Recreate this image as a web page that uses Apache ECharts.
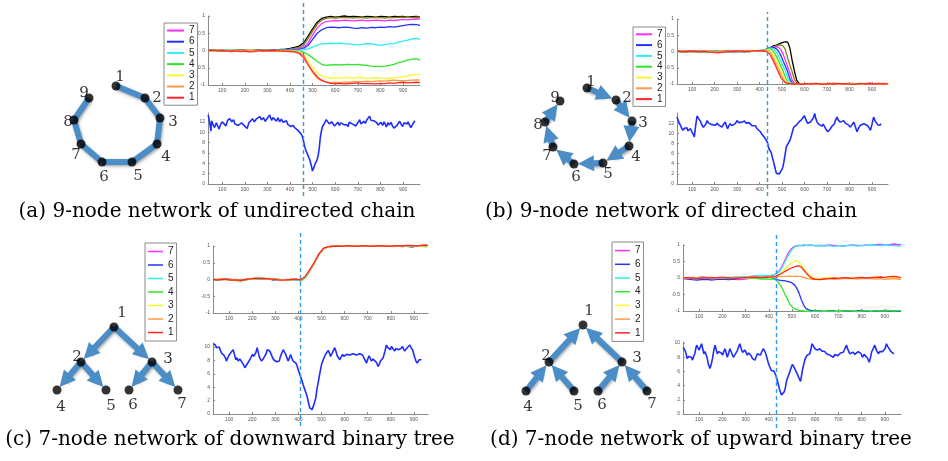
<!DOCTYPE html>
<html><head><meta charset="utf-8">
<script src="https://cdn.jsdelivr.net/npm/echarts@6/dist/echarts.min.js"></script>
<style>html,body{margin:0;padding:0;background:#fff}#c{width:948px;height:461px}</style>
</head><body><div id="c"></div>
<script>
// ================= DATA =================
const legendNames = ['7','6','5','4','3','2','1'];
const xTickValues = [100,200,300,400,500,600,700,800,900];
const yTopTicks = [-1,-0.5,0,0.5,1];
const yBotTicks12 = [0,2,4,6,8,10,12];
const yBotTicks10 = [0,2,4,6,8,10];
const captions = ['(a) 9-node network of undirected chain','(b) 9-node network of directed chain','(c) 7-node network of downward binary tree','(d) 7-node network of upward binary tree'];
const eventX = {a:460, b:433, c:407, d:431};

// ---- panel (a) top ----
const xA = [40,60,80,100,120,140,160,180,200,220,240,260,280,300,320,340,360,380,400,420,440,460,480,500,520,540,560,580,600,620,640,660,680,700,720,740,760,780,800,820,840,860,880,900,920,940,960,975];
const topA_9 = [0.01,0.02,0.0,0.01,-0.01,0.0,0.02,0.01,0.0,0.01,0.02,0.01,0.0,0.02,0.01,0.02,0.03,0.04,0.06,0.09,0.13,0.22,0.42,0.63,0.82,0.93,0.97,0.99,0.97,0.98,1.0,0.98,0.99,0.98,0.97,0.99,0.98,0.97,0.99,0.98,0.97,0.99,0.98,0.99,0.97,0.98,0.99,0.97];
const topA_8 = [0.0,0.01,0.02,0.0,0.01,0.0,-0.01,0.01,0.02,0.0,0.01,0.02,0.01,0.0,0.01,0.02,0.02,0.03,0.04,0.06,0.09,0.16,0.34,0.56,0.76,0.88,0.93,0.95,0.94,0.95,0.96,0.95,0.94,0.96,0.95,0.94,0.95,0.96,0.95,0.94,0.96,0.95,0.96,0.97,0.96,0.95,0.97,0.96];
const topA_7 = [0.02,0.0,0.01,0.02,0.0,-0.01,0.01,0.0,0.01,0.02,0.0,0.01,-0.01,0.0,0.01,0.0,0.01,0.02,0.03,0.04,0.06,0.1,0.22,0.45,0.65,0.78,0.84,0.86,0.87,0.86,0.88,0.87,0.86,0.87,0.88,0.86,0.87,0.88,0.87,0.86,0.88,0.87,0.89,0.9,0.89,0.9,0.92,0.9];
const topA_6 = [0.0,-0.01,0.01,0.0,-0.02,-0.03,-0.01,0.0,0.01,0.0,-0.01,0.01,0.0,0.01,0.0,0.01,0.0,0.01,0.02,0.02,0.03,0.06,0.15,0.32,0.5,0.6,0.66,0.68,0.67,0.66,0.68,0.67,0.65,0.64,0.66,0.65,0.67,0.66,0.68,0.67,0.69,0.68,0.7,0.72,0.74,0.76,0.75,0.73];
const topA_5 = [0.01,0.0,-0.01,0.01,0.02,0.0,0.01,-0.01,0.0,0.01,0.0,-0.01,0.0,0.01,0.0,-0.01,0.0,0.0,0.01,0.0,0.01,0.02,0.05,0.1,0.15,0.19,0.2,0.21,0.2,0.21,0.2,0.19,0.18,0.16,0.18,0.2,0.19,0.17,0.15,0.17,0.19,0.2,0.24,0.27,0.3,0.34,0.35,0.32];
const topA_4 = [0.0,0.01,0.0,-0.01,0.0,0.01,0.0,0.01,-0.01,0.0,0.01,0.0,0.01,0.0,-0.01,0.0,0.01,0.0,-0.01,-0.01,-0.02,-0.05,-0.12,-0.22,-0.32,-0.4,-0.43,-0.42,-0.41,-0.42,-0.41,-0.4,-0.41,-0.4,-0.42,-0.43,-0.45,-0.46,-0.47,-0.45,-0.43,-0.4,-0.35,-0.32,-0.28,-0.25,-0.24,-0.27];
const topA_3 = [-0.01,0.0,0.01,0.0,-0.01,0.0,0.0,-0.01,0.0,0.01,0.0,-0.01,0.0,0.0,-0.01,0.0,-0.01,-0.01,-0.02,-0.02,-0.03,-0.09,-0.3,-0.5,-0.65,-0.74,-0.78,-0.8,-0.79,-0.8,-0.78,-0.79,-0.8,-0.78,-0.79,-0.81,-0.8,-0.79,-0.8,-0.81,-0.8,-0.79,-0.78,-0.76,-0.74,-0.71,-0.7,-0.68];
const topA_2 = [0.0,-0.01,0.0,0.01,-0.01,-0.02,0.0,-0.01,0.0,0.0,-0.01,0.0,0.01,-0.01,0.0,-0.01,-0.01,-0.02,-0.02,-0.03,-0.05,-0.13,-0.4,-0.64,-0.8,-0.88,-0.92,-0.93,-0.92,-0.93,-0.91,-0.92,-0.9,-0.91,-0.9,-0.89,-0.9,-0.89,-0.88,-0.89,-0.87,-0.86,-0.87,-0.88,-0.87,-0.86,-0.85,-0.86];
const topA_1 = [0.0,0.01,-0.01,0.0,-0.02,-0.01,-0.02,-0.03,-0.02,-0.04,-0.03,-0.01,0.0,-0.01,0.0,-0.01,-0.02,-0.02,-0.03,-0.04,-0.08,-0.2,-0.42,-0.6,-0.76,-0.86,-0.92,-0.95,-0.96,-0.95,-0.97,-0.96,-0.95,-0.94,-0.96,-0.95,-0.96,-0.97,-0.95,-0.96,-0.94,-0.95,-0.93,-0.92,-0.94,-0.93,-0.92,-0.93];

// ---- panel (b) top ----
const xB = [35,55,75,95,115,135,155,175,195,215,235,255,275,295,315,335,355,375,395,415,425,435,445,455,465,475,485,495,505,515,525,535,545,555,565,575,585,595,610,630,650,670,690,710,730,750,770,790,810,830,850,870,890,910,930,950,970];
const topB_1 = [0.01,-0.01,0.0,0.02,0.0,-0.01,0.01,-0.02,-0.03,-0.04,-0.02,-0.01,0.0,0.02,0.01,0.0,0.01,0.02,0.03,0.02,0.01,-0.02,-0.08,-0.2,-0.35,-0.5,-0.65,-0.8,-0.9,-0.96,-0.98,-0.99,-1.0,-1.0,-0.99,-1.0,-1.01,-1.0,-0.99,-1.0,-0.98,-1.0,-1.01,-0.99,-1.0,-0.98,-1.0,-0.99,-1.01,-1.0,-0.98,-1.0,-0.99,-1.0,-0.98,-1.0,-0.99];
const topB_2 = [0.0,0.01,-0.01,0.0,0.01,-0.02,0.0,0.01,-0.01,0.0,0.01,-0.01,0.02,0.0,0.01,0.02,0.0,0.02,0.03,0.03,0.04,0.04,0.0,-0.1,-0.25,-0.4,-0.53,-0.7,-0.85,-0.94,-0.98,-1.0,-0.99,-1.0,-1.0,-0.99,-1.0,-1.01,-1.0,-0.99,-1.0,-1.01,-0.99,-1.0,-0.98,-1.0,-0.99,-1.0,-1.01,-0.99,-1.0,-0.98,-1.0,-0.99,-1.0,-1.01,-0.99];
const topB_3 = [-0.01,0.0,0.01,0.0,-0.01,0.0,0.01,0.0,0.0,-0.01,0.01,0.0,-0.01,0.01,0.0,0.01,0.02,0.01,0.02,0.03,0.04,0.06,0.05,-0.02,-0.12,-0.28,-0.42,-0.56,-0.75,-0.9,-0.97,-1.0,-1.0,-0.99,-1.0,-1.0,-0.99,-1.0,-1.0,-1.0,-0.99,-1.0,-0.98,-1.0,-0.99,-1.01,-1.0,-0.99,-1.0,-0.98,-1.0,-1.0,-0.99,-1.01,-1.0,-0.99,-1.0];
const topB_4 = [0.0,0.0,-0.01,0.01,0.0,0.01,-0.01,0.0,0.01,0.0,-0.01,0.0,0.01,0.0,0.02,0.0,0.01,0.02,0.03,0.04,0.05,0.08,0.08,0.05,-0.03,-0.15,-0.3,-0.45,-0.6,-0.8,-0.94,-0.99,-1.0,-1.0,-0.99,-1.0,-1.0,-1.01,-0.99,-1.0,-1.0,-0.98,-1.0,-0.99,-1.0,-1.01,-0.99,-1.0,-0.98,-1.0,-0.99,-1.0,-1.0,-0.98,-1.0,-0.99,-1.0];
const topB_5 = [-0.02,-0.01,0.0,0.01,0.0,-0.01,0.0,0.01,0.0,0.01,0.0,-0.01,0.0,0.01,0.0,0.01,0.0,0.01,0.02,0.03,0.05,0.09,0.1,0.1,0.06,-0.02,-0.15,-0.3,-0.45,-0.58,-0.8,-0.95,-0.99,-1.0,-1.0,-0.99,-1.0,-1.0,-1.0,-0.99,-1.0,-1.0,-0.98,-1.0,-0.99,-1.0,-1.0,-0.99,-1.0,-1.0,-0.98,-1.0,-0.99,-1.0,-1.0,-0.99,-1.0];
const topB_6 = [0.0,0.01,0.0,-0.01,0.0,0.01,0.0,0.0,0.01,0.0,0.0,0.01,0.0,-0.01,0.0,0.01,0.0,0.02,0.02,0.04,0.06,0.1,0.12,0.13,0.12,0.08,0.0,-0.12,-0.3,-0.45,-0.62,-0.85,-0.97,-1.0,-1.0,-0.99,-1.0,-1.0,-0.99,-1.0,-1.0,-0.99,-1.0,-0.98,-1.0,-1.0,-0.99,-1.0,-1.0,-0.99,-1.0,-1.0,-0.98,-1.0,-0.99,-1.0,-1.0];
const topB_7 = [0.01,0.0,0.0,0.01,-0.01,0.0,0.01,0.0,-0.01,0.0,0.01,0.0,0.0,0.01,0.0,0.0,0.01,0.01,0.02,0.03,0.05,0.08,0.11,0.13,0.14,0.15,0.12,0.05,-0.08,-0.28,-0.46,-0.66,-0.88,-0.98,-1.0,-1.0,-0.99,-1.0,-1.0,-0.98,-1.0,-0.99,-1.0,-1.0,-0.97,-1.0,-0.99,-1.0,-0.98,-1.0,-1.0,-0.99,-0.97,-1.0,-0.99,-0.98,-0.99];
const topB_8 = [0.0,0.0,0.01,0.0,0.0,-0.01,0.0,0.01,0.0,0.0,0.0,0.01,0.0,0.0,0.01,0.0,0.01,0.01,0.02,0.03,0.04,0.07,0.1,0.13,0.15,0.17,0.19,0.2,0.17,0.05,-0.2,-0.42,-0.63,-0.86,-0.97,-1.0,-1.0,-0.99,-1.0,-1.0,-0.99,-1.0,-1.0,-0.99,-1.0,-1.0,-0.99,-1.0,-1.0,-0.99,-1.0,-1.0,-0.99,-1.0,-1.0,-0.99,-1.0];
const topB_9 = [0.0,0.0,0.0,0.01,0.0,0.0,0.0,0.0,0.01,0.0,0.0,0.0,0.0,0.01,0.0,0.0,0.0,0.01,0.01,0.02,0.03,0.06,0.1,0.15,0.18,0.2,0.23,0.26,0.28,0.3,0.29,0.1,-0.28,-0.6,-0.88,-0.97,-1.0,-1.0,-0.99,-1.0,-1.0,-1.0,-0.99,-1.0,-1.0,-1.0,-0.99,-1.0,-1.0,-1.0,-0.99,-1.0,-1.0,-1.0,-0.99,-1.0,-1.0];

// ---- panel (c) top ----
const xC = [30,50,70,90,110,130,150,170,190,210,230,250,270,290,310,330,350,370,390,410,430,450,470,490,510,530,550,570,590,610,630,650,670,690,710,730,750,770,790,810,830,850,870,890,910,930,950,960];
const topC_1 = [0.0,-0.01,0.01,0.0,-0.02,-0.01,-0.03,0.0,0.02,0.03,0.04,0.03,0.02,0.01,-0.01,-0.02,-0.01,0.0,0.01,-0.01,0.1,0.3,0.53,0.78,0.94,0.98,0.99,1.0,0.99,1.01,1.0,0.99,1.0,1.01,0.99,1.0,1.01,1.0,0.99,1.0,1.01,1.0,1.02,1.01,1.0,1.02,1.03,1.02];
const topC_2 = [0.01,0.0,-0.01,0.01,0.0,-0.02,-0.01,0.01,0.02,0.04,0.03,0.02,0.03,0.0,0.0,-0.02,-0.02,0.01,0.0,-0.02,0.09,0.29,0.52,0.77,0.93,0.98,1.0,0.99,1.0,1.0,0.99,1.01,1.0,0.99,1.0,1.01,0.99,1.0,1.01,0.99,1.0,1.0,1.01,1.02,1.0,1.01,1.02,1.01];
const topC_3 = [0.0,0.01,0.0,-0.01,0.01,0.0,-0.02,0.0,0.03,0.02,0.04,0.02,0.03,0.01,-0.01,-0.02,0.0,-0.01,0.01,-0.01,0.08,0.28,0.51,0.76,0.93,0.97,0.99,1.0,0.99,1.0,1.01,0.99,1.0,1.0,0.99,1.01,1.0,0.99,1.0,1.01,1.0,0.99,1.0,1.01,1.0,1.0,1.01,1.0];
const topC_4 = [-0.01,0.0,0.0,0.01,-0.02,-0.03,-0.05,-0.02,0.01,0.03,0.02,0.04,0.02,0.0,0.01,-0.01,-0.02,0.0,0.01,-0.03,0.07,0.27,0.5,0.76,0.92,0.97,0.99,1.0,1.01,0.99,1.0,1.01,1.0,0.99,1.01,1.0,1.0,0.99,1.01,1.0,0.99,1.01,1.0,0.99,1.0,0.99,0.98,0.99];
const topC_5 = [0.02,0.0,0.01,-0.01,0.0,-0.01,-0.02,0.0,0.01,0.02,0.03,0.03,0.01,0.02,0.0,-0.02,-0.01,-0.02,-0.01,-0.05,0.05,0.25,0.49,0.75,0.92,0.97,0.99,0.99,1.0,0.99,1.0,1.0,0.99,1.0,1.01,0.99,1.0,0.99,1.0,0.98,1.0,0.99,0.98,1.0,0.99,1.0,0.98,0.99];
const topC_6 = [0.0,-0.01,0.0,0.01,0.0,-0.01,0.0,-0.01,0.02,0.03,0.02,0.01,0.03,-0.02,0.0,-0.02,0.0,-0.01,0.0,-0.03,0.06,0.26,0.5,0.76,0.93,0.98,0.99,1.0,0.99,1.0,1.01,1.0,0.99,1.0,1.0,0.99,1.0,1.01,1.0,0.99,1.0,0.98,1.0,0.97,1.0,0.99,1.0,0.99];
const topC_7 = [0.01,0.0,0.0,0.01,-0.01,0.0,-0.01,0.0,0.02,0.03,0.03,0.02,0.02,0.01,0.0,-0.01,-0.01,0.0,0.0,-0.02,0.08,0.28,0.52,0.77,0.93,0.98,0.99,1.0,1.0,0.99,1.01,1.0,1.0,0.99,1.01,1.0,1.0,0.99,1.0,1.01,1.0,1.0,0.99,1.01,1.0,1.0,1.01,1.0];

// ---- panel (d) top ----
const xD = [30,50,70,90,110,130,150,170,190,210,230,250,270,290,310,330,350,370,390,410,420,430,440,450,460,470,480,490,500,510,520,530,540,550,560,570,580,590,600,620,640,660,680,700,720,740,760,780,800,820,840,860,880,900,920,940,960,970];
const topD_7 = [0.0,0.01,0.02,0.01,0.03,0.02,0.01,0.0,-0.01,-0.02,-0.03,-0.04,-0.05,-0.04,-0.02,0.0,0.03,0.05,0.07,0.08,0.09,0.13,0.18,0.27,0.4,0.55,0.7,0.82,0.9,0.95,0.98,0.99,0.98,1.0,0.99,0.98,1.0,0.99,0.98,0.99,0.98,1.0,0.99,0.98,0.97,0.99,1.0,0.99,0.98,1.0,0.99,1.01,1.02,1.0,1.01,1.03,1.01,1.0];
const topD_6 = [-0.02,-0.03,-0.05,-0.06,-0.05,-0.04,-0.06,-0.05,-0.03,-0.04,-0.05,-0.03,-0.01,0.02,0.04,0.05,0.06,0.04,0.03,0.02,0.0,-0.04,-0.06,-0.07,-0.08,-0.09,-0.1,-0.12,-0.15,-0.2,-0.3,-0.45,-0.65,-0.82,-0.92,-0.96,-0.98,-0.99,-1.0,-1.0,-1.01,-0.99,-1.0,-1.02,-1.0,-0.99,-1.01,-1.0,-0.98,-1.0,-1.01,-0.99,-1.0,-0.98,-1.0,-0.99,-1.01,-1.0];
const topD_5 = [0.0,0.01,0.0,0.01,0.02,0.01,0.02,0.01,0.02,0.03,0.02,0.03,0.04,0.03,0.04,0.05,0.06,0.07,0.08,0.09,0.1,0.12,0.16,0.23,0.35,0.5,0.64,0.76,0.86,0.93,0.97,0.98,0.99,0.97,0.99,1.0,0.98,0.99,0.97,0.98,0.97,0.98,0.96,0.98,0.97,0.98,0.99,0.97,0.98,0.99,1.0,0.99,0.98,1.0,0.99,0.98,0.97,0.98];
const topD_4 = [0.0,-0.01,0.0,0.01,0.02,0.01,0.02,0.0,-0.01,0.0,-0.02,-0.01,0.0,0.01,0.0,-0.01,-0.02,-0.03,-0.03,-0.04,-0.03,-0.06,-0.12,-0.22,-0.35,-0.5,-0.64,-0.78,-0.87,-0.93,-0.96,-0.98,-0.99,-1.0,-1.01,-1.0,-1.02,-1.01,-1.0,-1.02,-1.01,-1.0,-1.02,-1.0,-1.01,-0.99,-1.0,-1.02,-1.0,-0.99,-1.01,-0.98,-1.0,-0.99,-0.98,-1.0,-0.99,-1.0];
const topD_3 = [0.01,0.0,0.02,0.01,0.0,0.01,0.02,0.01,0.0,0.01,0.02,0.01,0.02,0.01,0.02,0.03,0.02,0.03,0.02,0.03,0.03,0.05,0.08,0.13,0.2,0.28,0.35,0.42,0.47,0.51,0.53,0.48,0.4,0.3,0.2,0.12,0.06,0.02,0.0,-0.02,0.0,0.01,0.0,-0.01,0.01,0.0,0.02,0.01,0.0,0.01,0.02,0.03,0.02,0.01,0.02,0.0,0.01,0.02];
const topD_2 = [0.0,-0.01,0.0,-0.02,-0.01,0.0,0.01,0.0,-0.01,0.01,0.0,0.01,0.02,0.01,0.0,0.01,0.02,0.01,0.02,0.02,0.03,0.03,0.04,0.04,0.05,0.05,0.05,0.06,0.05,0.05,0.06,0.05,0.04,0.02,0.0,-0.02,-0.03,-0.04,-0.03,-0.04,-0.03,-0.02,-0.04,-0.03,-0.02,-0.01,-0.02,-0.03,-0.02,-0.01,-0.02,-0.03,-0.02,-0.04,-0.03,-0.02,-0.04,-0.03];
const topD_1 = [0.0,0.01,0.0,-0.01,0.0,0.01,0.0,0.01,0.02,0.01,0.0,-0.01,0.0,0.01,0.02,0.03,0.02,0.01,0.02,0.03,0.04,0.06,0.09,0.12,0.16,0.2,0.24,0.28,0.31,0.34,0.36,0.37,0.33,0.25,0.16,0.08,0.02,-0.02,-0.04,-0.05,-0.03,-0.02,0.0,-0.01,0.01,0.0,-0.01,0.01,0.02,0.0,0.01,0.02,0.03,0.02,0.04,0.05,0.03,0.0];

// ---- bottom panels: [x, value] ----
const bottomA = [[38,13.3],[45,11.7],[50,10.2],[53,12.2],[60,11.4],[66,10.9],[74,11.8],[80,11.2],[86,10.6],[93,11.5],[100,12.0],[108,11.6],[116,11.2],[124,12.3],[134,12.6],[142,12.0],[150,12.4],[156,11.6],[163,11.7],[170,11.3],[178,11.0],[186,11.8],[194,11.4],[202,11.2],[210,10.7],[218,11.8],[226,12.2],[234,12.6],[242,12.0],[250,12.5],[258,12.2],[266,13.0],[274,12.4],[282,12.8],[290,12.1],[298,12.6],[304,12.9],[310,13.3],[318,12.3],[325,12.8],[332,12.5],[340,12.1],[347,12.8],[354,12.0],[362,12.5],[370,11.9],[377,12.2],[384,12.2],[390,11.5],[396,11.7],[402,11.1],[406,10.9],[414,11.3],[420,10.9],[428,10.7],[436,10.3],[443,10.0],[450,9.6],[455,9.1],[460,8.2],[465,7.2],[470,6.5],[476,5.9],[482,5.2],[487,4.7],[492,3.9],[496,3.2],[499,2.5],[503,2.9],[508,3.5],[512,4.0],[516,4.3],[520,4.7],[525,5.7],[529,6.8],[534,9.0],[539,10.3],[543,11.0],[548,11.2],[553,11.8],[560,12.4],[568,12.2],[574,11.6],[579,11.9],[584,12.0],[590,11.7],[597,11.2],[605,11.5],[612,11.9],[618,11.3],[625,11.8],[632,12.1],[640,11.4],[649,11.5],[657,11.1],[662,11.9],[667,12.1],[675,11.6],[683,11.8],[690,11.2],[697,11.5],[703,12.0],[708,12.4],[714,11.6],[720,11.9],[727,12.1],[733,11.7],[740,12.4],[746,12.6],[752,13.1],[758,12.3],[764,12.6],[770,12.2],[776,12.5],[782,11.9],[790,11.4],[797,11.5],[803,11.9],[810,11.3],[816,12.0],[822,11.5],[826,11.0],[833,11.8],[840,11.4],[847,11.9],[853,11.2],[860,10.8],[867,10.6],[873,11.3],[879,11.7],[885,12.1],[892,11.5],[898,11.1],[905,11.8],[912,11.9],[918,11.6],[922,12.0],[928,11.4],[934,10.9],[940,11.3],[946,11.6],[952,12.2]];
const bottomB = [[33,13.2],[38,12.9],[43,12.0],[48,11.6],[54,11.0],[60,10.6],[66,11.0],[72,10.7],[77,11.1],[81,10.5],[87,10.8],[93,10.9],[98,10.4],[104,9.9],[110,9.3],[116,11.5],[122,13.4],[128,13.0],[133,13.2],[138,12.3],[144,11.6],[150,11.2],[155,10.9],[161,11.8],[167,12.5],[174,12.0],[181,12.2],[188,11.7],[196,11.9],[204,11.6],[211,12.0],[219,11.6],[226,11.4],[233,11.2],[240,11.8],[248,12.2],[253,11.4],[258,10.9],[264,11.5],[270,11.9],[277,11.5],[285,11.2],[292,11.9],[300,12.5],[307,12.1],[315,11.8],[322,12.2],[328,12.0],[333,12.4],[340,12.0],[347,11.8],[353,12.1],[359,11.9],[366,11.5],[374,11.2],[381,11.5],[389,10.9],[396,10.6],[404,10.3],[410,9.8],[416,9.6],[423,9.1],[430,9.0],[435,8.2],[441,7.0],[448,6.7],[452,6.2],[456,5.4],[461,4.6],[466,3.7],[470,2.9],[475,2.1],[482,1.8],[488,2.0],[493,2.4],[499,2.8],[504,3.4],[508,4.3],[512,5.4],[516,6.5],[519,7.3],[525,7.8],[530,8.0],[535,8.6],[540,9.3],[546,10.3],[552,11.2],[558,11.4],[564,11.6],[569,11.9],[574,12.2],[580,12.4],[585,12.6],[589,12.9],[594,13.1],[599,13.5],[604,12.9],[608,12.5],[613,12.0],[619,11.9],[626,12.2],[633,12.2],[639,13.0],[645,13.9],[650,12.9],[656,12.2],[663,11.8],[670,11.6],[677,11.4],[683,11.8],[688,11.5],[695,10.8],[703,10.3],[709,10.6],[715,10.9],[722,11.4],[728,11.6],[733,11.9],[738,12.6],[744,13.2],[750,12.6],[759,12.2],[766,12.4],[774,12.5],[781,12.0],[789,11.9],[796,11.6],[804,11.2],[811,11.7],[819,12.2],[826,11.3],[833,10.3],[840,11.0],[848,11.6],[855,11.9],[863,11.9],[870,11.6],[878,11.6],[885,11.2],[893,10.6],[900,11.8],[907,13.2],[913,12.5],[919,12.2],[925,11.7],[930,12.0],[935,11.6],[940,11.9]];
const bottomC = [[31,10.5],[36,10.4],[40,10.3],[45,9.9],[51,10.1],[57,10.0],[62,9.5],[67,9.1],[72,9.2],[77,8.8],[81,8.6],[85,8.3],[88,7.9],[93,8.3],[98,8.7],[103,8.9],[108,9.2],[113,9.4],[117,9.6],[122,9.0],[129,8.1],[134,8.4],[139,7.9],[146,8.2],[153,8.1],[158,7.6],[163,7.3],[168,6.9],[173,7.2],[178,7.4],[184,7.8],[189,8.1],[195,8.5],[201,8.9],[206,8.6],[211,8.4],[216,9.2],[221,9.9],[226,9.2],[230,8.6],[235,8.2],[240,7.9],[247,8.2],[254,8.4],[260,9.0],[265,9.6],[270,9.5],[276,9.4],[282,8.9],[288,8.4],[293,8.1],[298,7.9],[305,7.8],[312,7.6],[317,7.9],[322,8.6],[328,9.1],[334,9.6],[340,9.2],[345,8.9],[350,8.4],[355,7.9],[360,8.3],[366,8.9],[371,8.4],[377,7.9],[383,7.9],[389,7.6],[394,7.2],[399,6.6],[404,6.1],[409,5.6],[415,5.0],[420,4.4],[425,3.9],[430,3.4],[435,2.9],[439,2.4],[444,1.6],[449,0.9],[454,0.7],[459,0.65],[463,0.9],[467,1.4],[471,1.9],[475,2.4],[478,3.1],[481,3.9],[486,4.8],[490,5.6],[495,6.5],[500,7.4],[505,7.9],[511,8.4],[516,8.8],[521,9.1],[525,9.3],[529,9.5],[534,9.1],[539,8.6],[545,9.0],[550,9.4],[557,9.9],[563,9.3],[568,8.7],[574,8.4],[579,8.1],[585,8.5],[591,8.9],[596,8.6],[601,8.7],[608,8.9],[615,9.1],[622,8.8],[630,8.7],[637,9.0],[644,9.1],[651,8.8],[658,8.9],[665,9.0],[673,9.1],[678,8.8],[683,8.4],[689,8.0],[695,7.6],[700,8.2],[706,8.7],[711,8.3],[716,7.9],[723,8.2],[731,8.4],[738,7.7],[745,7.1],[750,7.4],[755,7.9],[761,8.1],[767,8.4],[774,9.3],[781,10.3],[787,9.9],[793,9.9],[798,9.6],[803,10.1],[810,9.7],[817,9.4],[822,9.8],[827,9.9],[833,9.6],[839,9.4],[845,9.8],[850,10.1],[855,9.7],[860,9.4],[866,9.6],[871,9.9],[876,10.0],[882,10.3],[888,9.9],[894,9.6],[899,9.0],[904,8.4],[909,7.9],[914,7.6],[919,7.8],[923,8.1],[928,7.9],[933,8.1]];
const bottomD = [[31,9.4],[36,9.2],[41,8.8],[48,7.8],[54,8.1],[60,8.3],[66,8.0],[71,7.6],[76,8.1],[81,8.5],[85,9.2],[89,9.7],[95,9.3],[100,9.0],[105,9.5],[110,9.9],[115,9.2],[120,8.5],[125,8.8],[129,8.7],[134,7.9],[139,7.1],[143,6.7],[146,6.4],[151,6.9],[157,7.8],[162,8.8],[168,9.7],[173,9.1],[178,8.5],[184,8.8],[189,9.0],[195,8.6],[201,8.3],[206,8.8],[211,9.2],[216,8.6],[221,8.0],[227,8.6],[232,9.2],[240,8.6],[247,8.0],[253,8.3],[258,8.3],[264,8.9],[270,9.5],[275,9.9],[281,9.2],[287,8.7],[292,8.9],[297,9.0],[302,8.7],[307,8.3],[313,8.6],[318,8.7],[324,8.2],[330,7.8],[335,7.7],[340,7.6],[346,8.1],[351,8.5],[357,8.3],[364,8.3],[370,8.8],[376,9.2],[382,8.9],[387,8.5],[392,7.9],[397,7.3],[402,6.8],[407,6.4],[412,6.1],[416,6.0],[421,6.1],[426,6.0],[431,5.4],[436,4.8],[441,4.2],[445,3.6],[450,3.1],[455,2.7],[459,2.8],[462,2.9],[466,3.1],[469,3.4],[473,4.0],[476,4.6],[482,5.2],[488,5.7],[493,6.2],[498,6.7],[502,7.0],[505,7.1],[509,6.8],[512,6.4],[517,6.0],[522,5.7],[527,5.3],[531,5.0],[534,4.8],[537,4.6],[541,5.4],[545,6.2],[550,6.9],[555,7.6],[560,8.0],[566,8.3],[572,8.4],[577,8.5],[582,9.2],[586,9.9],[592,9.6],[599,9.2],[604,9.0],[609,9.0],[614,8.8],[620,9.2],[627,8.9],[634,8.7],[641,8.8],[649,8.5],[656,8.6],[663,8.3],[670,8.5],[678,8.0],[685,8.4],[692,8.5],[698,8.2],[703,8.3],[709,8.6],[715,8.8],[721,8.7],[728,9.2],[735,9.7],[742,9.0],[749,8.5],[756,8.6],[764,8.7],[771,8.4],[778,8.3],[785,8.8],[792,9.0],[798,8.5],[804,8.0],[811,8.4],[818,8.5],[825,7.9],[833,7.3],[838,7.9],[843,8.7],[850,9.2],[857,9.7],[864,9.0],[872,8.5],[879,8.8],[886,9.0],[891,8.8],[896,8.7],[901,9.2],[907,9.9],[913,9.5],[919,9.2],[924,8.9],[929,8.9],[934,8.6],[939,8.5]];

// ---- networks: node layout positions (units) and edges (1-based) ----
const nodesA = [[66,16],[95,28],[110,48],[107,74],[82,92],[52,92],[31,74],[24,50],[39,28]];
const edgesA = [[1,2],[2,3],[3,4],[4,5],[5,6],[6,7],[7,8],[8,9]];
const nodesB = [[67,18],[96,30],[112,51],[109,76],[83,93],[54,94],[33,77],[25,52],[40,31]];
const edgesB = [[1,2],[2,3],[3,4],[4,5],[5,6],[6,7],[7,8],[8,9]];
const nodesC = [[74,27],[41,62],[112,62],[17,90],[66,90],[89,90],[138,90]];
const edgesC = [[1,2],[1,3],[2,4],[2,5],[3,6],[3,7]];
const nodesD = [[73,25],[39,62],[112,62],[16,91],[64,91],[88,91],[137,91]];
const edgesD = [[4,2],[5,2],[6,3],[7,3],[2,1],[3,1]];

// ================= STYLE / LAYOUT =================
const COLORS = {'1':'#ff2626','2':'#ff9a4a','3':'#f7f72e','4':'#2ee62e','5':'#2eeeee','6':'#2233ff','7':'#ff2eff','8':'#858500','9':'#000000'};
const EDGE = '#4b8dc6';
const NODE_R = 4, HEAD = 16;
const labelOffA = [[4,-9],[12,0],[13,4],[9,13],[6,14],[2,15],[-5,11],[-6,2],[-5,-5]];
const labelOffB = [[4,-6],[11,-2],[11,2],[7,11],[5,11],[2,13],[-6,9],[-7,3],[-5,-3]];
const labelOffC = [[8,-14],[-4,-5],[16,-3],[4,17],[5,16],[4,15],[4,14]];
const labelOffD = [[6,-14],[-3,-6],[15,-4],[2,16],[4,15],[4,14],[5,13]];

const option = {animation:false, backgroundColor:'#fff', grid:[], xAxis:[], yAxis:[], series:[], legend:[], graphic:[]};

function addGrid(b){ option.grid.push({left:b[0], top:b[1], width:b[2], height:b[3], containLabel:false, outerBoundsMode:'none'}); return option.grid.length-1; }
function axisStyle(ticks){
  return {
    axisLine:{show:true, onZero:false, lineStyle:{color:'#8a8a8a', width:1}},
    axisTick:{show:true, inside:true, length:2, customValues:ticks, lineStyle:{color:'#8a8a8a'}},
    axisLabel:{show:true, customValues:ticks, showMinLabel:true, showMaxLabel:true, fontSize:5, color:'#555', fontFamily:'Liberation Sans', margin:3},
    splitLine:{show:false}
  };
}
function addChart(b, xr, yr, yt){
  const gi = addGrid(b);
  option.xAxis.push(Object.assign({type:'value', gridIndex:gi, min:xr[0], max:xr[1]}, axisStyle(xTickValues)));
  option.yAxis.push(Object.assign({type:'value', gridIndex:gi, min:yr[0], max:yr[1]}, axisStyle(yt)));
  return [option.xAxis.length-1, option.yAxis.length-1];
}
function addTop(b, xr, xs, map, order){
  const [xi, yi] = addChart(b, xr, [-1,1], yTopTicks);
  order.forEach(n => option.series.push({type:'line', name:n, xAxisIndex:xi, yAxisIndex:yi, clip:false, showSymbol:false, symbol:'none', silent:true,
    data: xs.map((x,i)=>[x, map[n][i]]), lineStyle:{width:1.3, color:COLORS[n]}, itemStyle:{color:COLORS[n]}}));
}
function addBottom(b, xr, ymax, yt, pts){
  const [xi, yi] = addChart(b, xr, [0,ymax], yt);
  option.series.push({type:'line', name:'sum', xAxisIndex:xi, yAxisIndex:yi, showSymbol:false, symbol:'none', silent:true, data:pts, lineStyle:{width:1.6, color:'#1f2dff'}});
}
function addEventLine(b, xr, xv){
  const gi = addGrid(b);
  option.xAxis.push({type:'value', gridIndex:gi, min:xr[0], max:xr[1], show:false});
  option.yAxis.push({type:'value', gridIndex:gi, min:0, max:1, show:false});
  option.series.push({type:'line', xAxisIndex:option.xAxis.length-1, yAxisIndex:option.yAxis.length-1, data:[], silent:true,
    markLine:{silent:true, symbol:['none','none'], label:{show:false}, lineStyle:{type:[4,3], color:'#2f9cf0', width:1.4}, data:[{xAxis:xv}]}});
}
function addNetwork(b, nodes, edges, offs, directed){
  const gi = addGrid(b);
  option.xAxis.push({type:'value', gridIndex:gi, min:0, max:b[2], show:false});
  option.yAxis.push({type:'value', gridIndex:gi, min:0, max:b[3], inverse:true, show:false});
  const xi = option.xAxis.length-1, yi = option.yAxis.length-1;
  const data = edges.map(([s,t])=>{
    const p = nodes[s-1], q = nodes[t-1];
    if (!directed) return {coords:[p,q]};
    const dx=q[0]-p[0], dy=q[1]-p[1], L=Math.hypot(dx,dy), back=NODE_R+HEAD/2;
    return {coords:[p,[q[0]-dx/L*back, q[1]-dy/L*back]]};
  });
  option.series.push({type:'lines', coordinateSystem:'cartesian2d', xAxisIndex:xi, yAxisIndex:yi, silent:true, z:2,
    symbol: directed?['none','triangle']:['none','none'], symbolSize: directed?[1,HEAD]:[0,0], data,
    lineStyle:{color:EDGE, width:6, opacity:1, cap:'butt', shadowBlur:3, shadowColor:'rgba(0,0,0,0.35)', shadowOffsetX:1, shadowOffsetY:1.5}});
  option.series.push({type:'scatter', xAxisIndex:xi, yAxisIndex:yi, silent:true, z:3, symbolSize:NODE_R*2+1, itemStyle:{color:'#000'},
    data: nodes.map((p,i)=>({value:p, label:{offset:offs[i]}})),
    label:{show:true, position:'inside', formatter:p=>String(p.dataIndex+1), color:'#000', fontFamily:'DejaVu Serif', fontSize:15}});
}
function addLegend(left, top, lh, gap, iw, ih){
  option.legend.push({data:legendNames, orient:'vertical', left, top, icon:'rect', itemWidth:iw, itemHeight:ih, itemGap:gap,
    padding:[2,3,2,3], borderColor:'#8a8a8a', borderWidth:1, backgroundColor:'#fff', selectedMode:false,
    textStyle:{fontSize:10, color:'#222', fontFamily:'Liberation Sans', lineHeight:lh}});
}
function addCaption(text, x, y){
  option.graphic.push({type:'text', x, y, silent:true, style:{text, fill:'#000', font:'20px "DejaVu Serif"', textAlign:'center', textVerticalAlign:'middle'}});
}

// ---- panel (a) ----
const xrA = [37,975];
addEventLine([208,3,212,193], xrA, eventX.a);
addTop([208,16,212,69], xrA, xA, {'1':topA_1,'2':topA_2,'3':topA_3,'4':topA_4,'5':topA_5,'6':topA_6,'7':topA_7,'8':topA_8,'9':topA_9}, ['9','8','7','6','5','4','3','2','1']);
addBottom([208,113,212,71], xrA, 13.7, yBotTicks12, bottomA);
addNetwork([50,70,130,120], nodesA, edgesA, labelOffA, false);
addLegend(164, 23, 11, 0.2, 17, 2);
addCaption(captions[0], 217, 212);

// ---- panel (b) ----
const xrB = [33,971];
addEventLine([677,12,211,184], xrB, eventX.b);
addTop([677,19,211,65], xrB, xB, {'1':topB_1,'2':topB_2,'3':topB_3,'4':topB_4,'5':topB_5,'6':topB_6,'7':topB_7,'8':topB_8,'9':topB_9}, ['9','8','7','6','5','4','3','2','1']);
addBottom([677,113,211,71], xrB, 14, yBotTicks12, bottomB);
addNetwork([520,70,140,120], nodesB, edgesB, labelOffB, true);
addLegend(633, 27, 10.6, 0.2, 16, 2);
addCaption(captions[1], 671, 212);

// ---- panel (c) ----
const xrC = [30,961];
addEventLine([213,233,215,193], xrC, eventX.c);
addTop([213,246,215,67], xrC, xC, {'1':topC_1,'2':topC_2,'3':topC_3,'4':topC_4,'5':topC_5,'6':topC_6,'7':topC_7}, ['7','6','5','4','3','2','1']);
addBottom([213,343,215,71], xrC, 10.6, yBotTicks10, bottomC);
addNetwork([40,300,160,120], nodesC, edgesC, labelOffC, true);
addLegend(145, 243, 13, 0.5, 15, 1.5);
addCaption(captions[2], 230, 440);

// ---- panel (d) ----
const xrD = [30,970];
addEventLine([683,232,218,196], xrD, eventX.d);
addTop([683,245,218,66], xrD, xD, {'1':topD_1,'2':topD_2,'3':topD_3,'4':topD_4,'5':topD_5,'6':topD_6,'7':topD_7}, ['7','6','5','4','3','2','1']);
addBottom([683,342,218,72], xrD, 10.15, yBotTicks10, bottomD);
addNetwork([510,300,160,120], nodesD, edgesD, labelOffD, true);
addLegend(612, 242, 13.2, 0.5, 15, 1.5);
addCaption(captions[3], 701, 440);

const chart = echarts.init(document.getElementById('c'), null, {renderer:'canvas'});
chart.setOption(option);
</script>
</body></html>
